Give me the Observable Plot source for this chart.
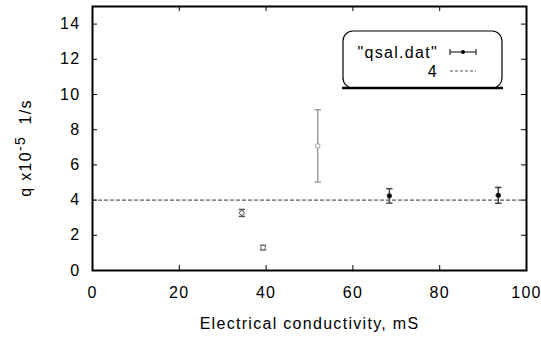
<!DOCTYPE html>
<html>
<head>
<meta charset="utf-8">
<script src="https://cdn.jsdelivr.net/npm/d3@7"></script>
<script src="https://cdn.jsdelivr.net/npm/@observablehq/plot@0.6"></script>
<style>
  html, body { margin: 0; padding: 0; background: #fff; }
  svg { display: block; }
  text { font-family: "Liberation Sans", Arial, sans-serif; }
</style>
</head>
<body>
<div id="chart"></div>
<script>
// ---- data ----
const conductivity = [34.4, 39.3, 51.9, 68.4, 93.5];
const qValue      = [3.27, 1.30, 7.08, 4.24, 4.27];
const qError      = [0.20, 0.13, 2.05, 0.41, 0.45];
const barColor    = ["#555555", "#666666", "#999999", "#444444", "#333333"];
const dotFill     = ["#ffffff", "#ffffff", "#ffffff", "#000000", "#000000"];
const fitValue    = 4;
const xTicks = [0, 20, 40, 60, 80, 100];
const yTicks = [0, 2, 4, 6, 8, 10, 12, 14];
const xLabel = "Electrical conductivity, mS";
const yLabelParts = ["q x10", "-5", " 1/s"];
const legendLabels = ['"qsal.dat"', "4"];

const data = conductivity.map((x, i) => ({
  x, y: qValue[i], lo: qValue[i] - qError[i], hi: qValue[i] + qError[i],
  color: barColor[i], fill: dotFill[i]
}));

const W = 541, H = 341;
const mL = 92, mR = 15, mT = 6, mB = 71;
const frameW = W - mL - mR, frameH = H - mT - mB;
const tickLen = 5;

// horizontal cap symbol for error bars
const capSymbol = {
  draw(ctx, size) {
    const w = Math.sqrt(size / Math.PI);
    ctx.moveTo(-w, 0); ctx.lineTo(w, 0);
  }
};

const fontStyle = {fontFamily: "Liberation Sans, Arial, sans-serif", fontSize: "16px", letterSpacing: "1.3px", color: "#000"};

const chart = Plot.plot({
  width: W, height: H,
  marginLeft: mL, marginRight: mR, marginTop: mT, marginBottom: mB,
  style: fontStyle,
  x: {domain: [0, 100], ticks: xTicks},
  y: {domain: [0, 15], ticks: yTicks},
  marks: [
    // axis labels (no ticks, ticks drawn inward below)
    Plot.axisX(xTicks, {tickSize: 0, tickPadding: 16, label: null, fontSize: 16}),
    Plot.axisY(yTicks, {tickSize: 0, tickPadding: 12, label: null, fontSize: 16}),
    // inward ticks on all four sides
    Plot.tickX(xTicks.slice(1, -1), {x: d => d, insetTop: frameH - tickLen, stroke: "#000"}),
    Plot.tickX(xTicks.slice(1, -1), {x: d => d, insetBottom: frameH - tickLen, stroke: "#000"}),
    Plot.tickY(yTicks.slice(1), {y: d => d, insetRight: frameW - tickLen, stroke: "#000"}),
    Plot.tickY(yTicks.slice(1), {y: d => d, insetLeft: frameW - tickLen, stroke: "#000"}),
    // fitted constant
    Plot.ruleY([fitValue], {stroke: "#333", strokeWidth: 1, strokeDasharray: "4,2"}),
    // error bars
    Plot.ruleX(data, {x: "x", y1: "lo", y2: "hi", stroke: "color", strokeWidth: 1.4}),
    Plot.dot(data, {x: "x", y: "hi", symbol: capSymbol, r: 3.2, stroke: "color", strokeWidth: 1.4}),
    Plot.dot(data, {x: "x", y: "lo", symbol: capSymbol, r: 3.2, stroke: "color", strokeWidth: 1.4}),
    Plot.dot(data, {x: "x", y: "y", r: 2.3, stroke: "color", fill: "fill", strokeWidth: 1}),
    // x axis title
    Plot.text([xLabel], {frameAnchor: "bottom", dy: 58, text: d => d, fontSize: 16, fill: "#000"}),
    Plot.frame({stroke: "#000", strokeWidth: 2})
  ]
});

document.getElementById("chart").appendChild(chart);

const svg = d3.select(chart);

// y axis title with superscript
const yl = svg.append("text")
  .attr("transform", "translate(31,148) rotate(-90)")
  .attr("text-anchor", "middle")
  .style("font-size", "16px")
  .style("letter-spacing", "1.3px")
  .attr("fill", "#000");
yl.append("tspan").text(yLabelParts[0]);
yl.append("tspan").attr("dy", -6).style("font-size", "14px").text(yLabelParts[1]);
yl.append("tspan").attr("dy", 6).attr("xml:space", "preserve").text("\u00a0" + yLabelParts[2]);

// legend box
const lg = svg.append("g");
lg.append("rect").attr("x", 343).attr("y", 31).attr("width", 159).attr("height", 57)
  .attr("rx", 10).attr("fill", "#fff").attr("stroke", "#000").attr("stroke-width", 1.2);
lg.append("line").attr("x1", 342).attr("x2", 503).attr("y1", 88).attr("y2", 88)
  .attr("stroke", "#000").attr("stroke-width", 2.5);
lg.append("text").attr("x", 438).attr("y", 58).attr("text-anchor", "end")
  .style("font-size", "16px").style("letter-spacing", "1.3px").text(legendLabels[0]);
lg.append("text").attr("x", 438).attr("y", 77).attr("text-anchor", "end")
  .style("font-size", "16px").style("letter-spacing", "1.3px").text(legendLabels[1]);
// sample error bar
lg.append("line").attr("x1", 450).attr("x2", 476).attr("y1", 52).attr("y2", 52).attr("stroke", "#000");
lg.append("line").attr("x1", 450).attr("x2", 450).attr("y1", 49).attr("y2", 55).attr("stroke", "#000");
lg.append("line").attr("x1", 476).attr("x2", 476).attr("y1", 49).attr("y2", 55).attr("stroke", "#000");
lg.append("circle").attr("cx", 463).attr("cy", 52).attr("r", 2).attr("fill", "#000");
// sample dashed line
lg.append("line").attr("x1", 450).attr("x2", 476).attr("y1", 71).attr("y2", 71)
  .attr("stroke", "#555").attr("stroke-dasharray", "3,2");
</script>
</body>
</html>
